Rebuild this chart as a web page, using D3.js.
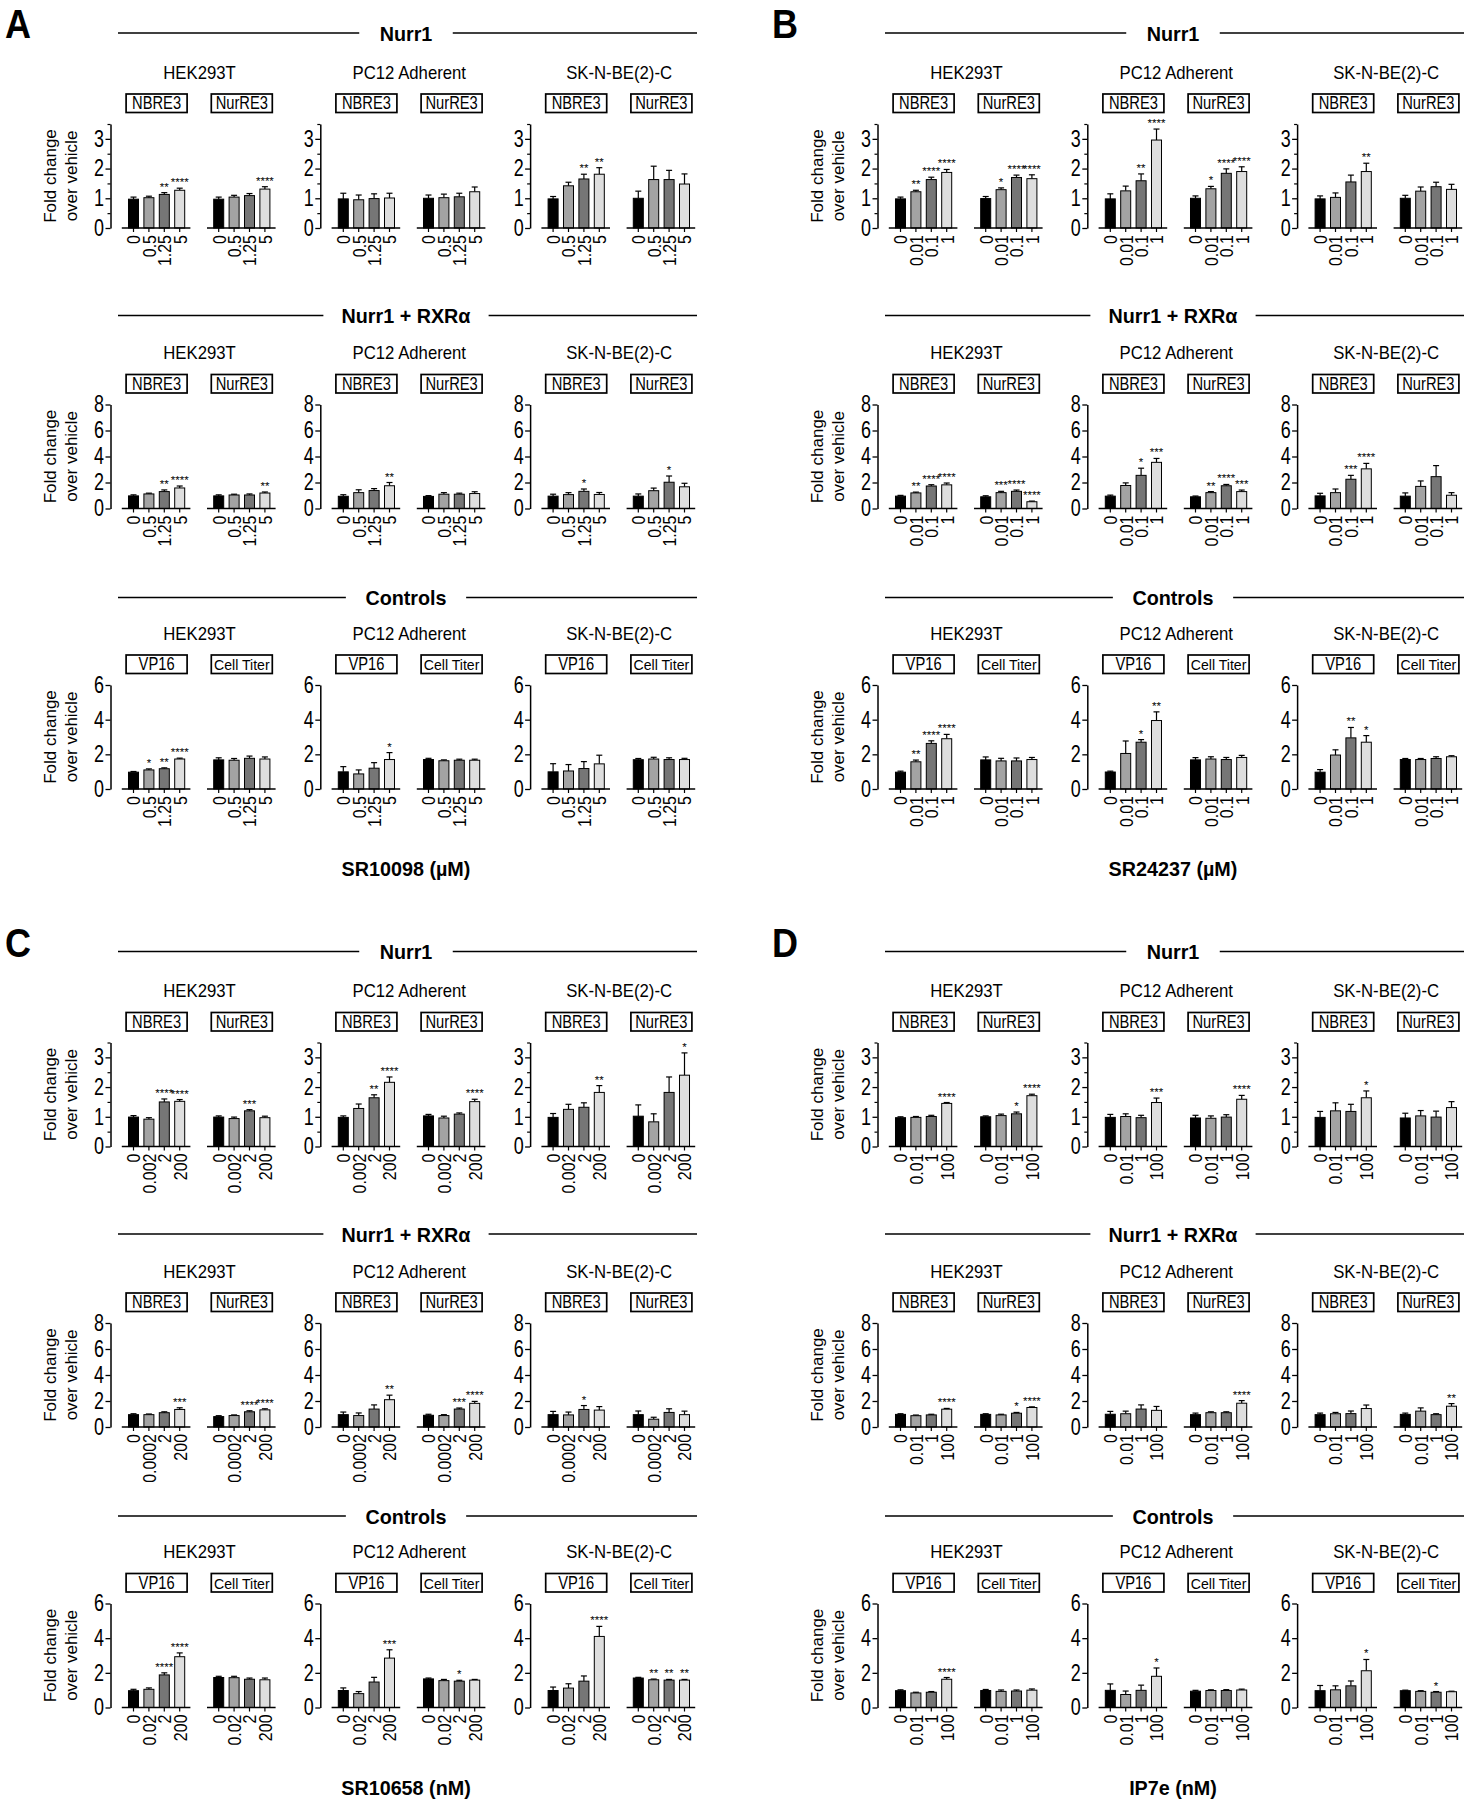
<!DOCTYPE html>
<html><head><meta charset="utf-8">
<script src="https://cdn.jsdelivr.net/npm/d3@7"></script>
<style>body{margin:0;background:#fff}</style>
</head><body>
<svg id="c" width="1464" height="1800"></svg>
<script>
// ---------------- DATA ----------------
const panelLetters = ["A","B","C","D"];
const xLabels = ["SR10098 (\u00b5M)","SR24237 (\u00b5M)","SR10658 (nM)","IP7e (nM)"];
const rowTitles = ["Nurr1","Nurr1 + RXR\u03b1","Controls"];
const cellLines = ["HEK293T","PC12 Adherent","SK-N-BE(2)-C"];
const reporters = [["NBRE3","NurRE3"],["NBRE3","NurRE3"],["VP16","Cell Titer"]];
const yMax = [3.5, 8, 6];
const yTicks = [[0,1,2,3],[0,2,4,6,8],[0,2,4,6]];
const yMinorTicks = [[0.5,1.5,2.5,3.5],[],[]];
const dosesA = ["0","0.5","1.25","5"];
const dosesB = ["0","0.01","0.1","1"];
const dosesC = [["0","0.002","2","200"],["0","0.0002","2","200"],["0","0.02","2","200"]];
const dosesD = ["0","0.01","1","100"];

// order per row: HEK rep1, HEK rep2, PC12 rep1, PC12 rep2, SK rep1, SK rep2
const meansA = [
 [0.97,1.02,1.13,1.27],[0.97,1.04,1.09,1.31],[0.98,0.95,0.99,1.01],[1.00,1.02,1.05,1.22],[0.98,1.42,1.65,1.81],[1.00,1.63,1.63,1.48],
 [0.97,1.12,1.30,1.58],[0.97,1.04,1.04,1.19],[0.94,1.22,1.38,1.75],[0.93,1.10,1.10,1.15],[0.95,1.07,1.32,1.08],[0.95,1.37,2.02,1.67],
 [0.97,1.10,1.17,1.73],[1.68,1.66,1.77,1.73],[0.99,0.87,1.20,1.70],[1.70,1.63,1.66,1.66],[0.99,1.04,1.18,1.45],[1.69,1.73,1.70,1.70]];
const errsA = [
 [0.07,0.05,0.06,0.07],[0.07,0.06,0.07,0.08],[0.19,0.16,0.16,0.16],[0.11,0.12,0.12,0.16],[0.08,0.12,0.16,0.22],[0.24,0.45,0.31,0.34],
 [0.08,0.06,0.13,0.15],[0.08,0.06,0.08,0.08],[0.12,0.22,0.15,0.25],[0.06,0.12,0.08,0.14],[0.15,0.15,0.18,0.15],[0.17,0.20,0.48,0.27],
 [0.04,0.06,0.05,0.05],[0.12,0.10,0.13,0.12],[0.30,0.23,0.32,0.40],[0.07,0.05,0.06,0.06],[0.47,0.37,0.40,0.50],[0.07,0.10,0.10,0.07]];
const starsA = [
 [0,0,2,4],[0,0,0,4],[0,0,0,0],[0,0,0,0],[0,0,2,2],[0,0,0,0],
 [0,0,2,4],[0,0,0,2],[0,0,0,2],[0,0,0,0],[0,0,1,0],[0,0,1,0],
 [0,1,2,4],[0,0,0,0],[0,0,0,1],[0,0,0,0],[0,0,0,0],[0,0,0,0]];

const meansB = [
 [0.98,1.22,1.63,1.87],[0.99,1.29,1.70,1.66],[0.98,1.25,1.59,2.96],[1.00,1.32,1.84,1.90],[0.98,1.03,1.55,1.90],[1.00,1.24,1.39,1.30],
 [0.95,1.20,1.73,1.82],[0.90,1.22,1.32,0.52],[0.95,1.77,2.55,3.55],[0.90,1.22,1.75,1.30],[0.97,1.22,2.25,3.05],[0.95,1.70,2.45,1.02],
 [0.97,1.57,2.63,2.90],[1.68,1.62,1.62,1.70],[0.98,2.05,2.70,3.95],[1.68,1.73,1.70,1.82],[0.97,1.96,2.95,2.70],[1.70,1.70,1.76,1.86]];
const errsB = [
 [0.06,0.05,0.08,0.10],[0.07,0.06,0.08,0.13],[0.17,0.16,0.23,0.37],[0.08,0.08,0.15,0.16],[0.10,0.15,0.23,0.28],[0.10,0.14,0.15,0.17],
 [0.06,0.06,0.10,0.14],[0.08,0.10,0.10,0.05],[0.08,0.20,0.55,0.30],[0.06,0.08,0.10,0.12],[0.20,0.28,0.30,0.42],[0.25,0.42,0.85,0.20],
 [0.06,0.10,0.15,0.25],[0.17,0.15,0.17,0.12],[0.05,0.72,0.15,0.50],[0.13,0.13,0.12,0.12],[0.15,0.30,0.60,0.38],[0.06,0.06,0.10,0.06]];
const starsB = [
 [0,2,4,4],[0,1,4,4],[0,0,2,4],[0,1,4,4],[0,0,0,2],[0,0,0,0],
 [0,2,4,4],[0,3,4,4],[0,0,1,3],[0,2,4,3],[0,0,3,4],[0,0,0,0],
 [0,2,4,4],[0,0,0,0],[0,0,1,2],[0,0,0,0],[0,0,2,1],[0,0,0,0]];

const meansC = [
 [0.99,0.92,1.50,1.52],[0.99,0.94,1.20,0.97],[0.98,1.28,1.64,2.16],[1.03,0.96,1.09,1.51],[0.98,1.25,1.32,1.82],[1.02,0.83,1.82,2.40],
 [0.95,0.95,1.10,1.35],[0.80,0.88,1.17,1.32],[0.95,0.88,1.38,2.10],[0.90,0.88,1.38,1.82],[0.95,0.93,1.35,1.30],[0.95,0.60,1.12,0.95],
 [0.97,1.05,1.88,2.93],[1.73,1.72,1.63,1.60],[0.98,0.80,1.47,2.85],[1.65,1.55,1.52,1.58],[0.98,1.12,1.52,4.10],[1.70,1.60,1.58,1.58]];
const errsC = [
 [0.05,0.05,0.10,0.06],[0.04,0.05,0.04,0.05],[0.05,0.15,0.10,0.18],[0.05,0.06,0.04,0.08],[0.13,0.17,0.15,0.23],[0.38,0.27,0.52,0.75],
 [0.07,0.05,0.07,0.13],[0.07,0.05,0.08,0.08],[0.20,0.20,0.32,0.35],[0.08,0.07,0.08,0.15],[0.25,0.22,0.30,0.27],[0.28,0.15,0.28,0.27],
 [0.08,0.08,0.12,0.22],[0.07,0.08,0.07,0.10],[0.15,0.12,0.27,0.48],[0.05,0.07,0.05,0.04],[0.20,0.25,0.30,0.58],[0.04,0.04,0.04,0.04]];
const starsC = [
 [0,0,4,4],[0,0,3,0],[0,0,2,4],[0,0,0,4],[0,0,0,2],[0,0,0,1],
 [0,0,0,3],[0,0,4,4],[0,0,0,2],[0,0,3,4],[0,0,1,0],[0,0,0,0],
 [0,0,4,4],[0,0,0,0],[0,0,0,3],[0,0,1,0],[0,0,0,4],[0,2,2,2]];

const meansD = [
 [0.97,0.98,1.01,1.45],[1.00,1.04,1.10,1.71],[0.98,1.01,0.97,1.48],[0.96,0.95,0.99,1.59],[0.98,1.20,1.18,1.64],[0.96,1.03,0.99,1.31],
 [0.97,0.87,0.93,1.37],[0.97,0.93,1.06,1.50],[0.98,1.02,1.38,1.28],[0.95,1.10,1.10,1.83],[0.95,1.02,1.03,1.42],[0.97,1.22,0.95,1.60],
 [0.97,0.84,0.88,1.63],[0.98,0.93,0.95,1.00],[0.99,0.75,0.99,1.80],[0.94,0.98,0.98,1.01],[0.97,1.02,1.25,2.12],[0.97,0.93,0.88,0.91]];
const errsD = [
 [0.03,0.03,0.04,0.03],[0.03,0.05,0.06,0.05],[0.10,0.09,0.08,0.15],[0.09,0.08,0.08,0.13],[0.20,0.27,0.24,0.23],[0.16,0.18,0.20,0.20],
 [0.05,0.05,0.05,0.06],[0.05,0.05,0.06,0.05],[0.22,0.20,0.32,0.30],[0.12,0.07,0.07,0.20],[0.12,0.10,0.20,0.27],[0.10,0.25,0.07,0.20],
 [0.05,0.04,0.04,0.10],[0.06,0.08,0.06,0.07],[0.37,0.20,0.30,0.48],[0.05,0.04,0.05,0.05],[0.30,0.23,0.28,0.65],[0.03,0.04,0.04,0.03]];
const starsD = [
 [0,0,0,4],[0,0,1,4],[0,0,0,3],[0,0,0,4],[0,0,0,1],[0,0,0,0],
 [0,0,0,4],[0,0,1,4],[0,0,0,0],[0,0,0,4],[0,0,0,0],[0,0,0,2],
 [0,0,0,4],[0,0,0,0],[0,0,0,1],[0,0,0,0],[0,0,0,1],[0,0,1,0]];

const barFills = ["#000000","#a3a3a3","#767676","#dedede"];

// ---------------- DRAW ----------------
const FF = "'Liberation Sans', Arial, Helvetica, sans-serif";
const svg = d3.select("#c").attr("font-family", FF);
svg.append("rect").attr("width",1464).attr("height",1800).attr("fill","#fff");

// horizontally condense text (Helvetica-Condensed look); optional max width
function condense(sel, f, maxW) {
  sel.each(function () {
    const L = this.getComputedTextLength();
    let T = L * f;
    if (maxW && T > maxW) T = maxW;
    if (L > 0) d3.select(this).attr("textLength", T).attr("lengthAdjust", "spacingAndGlyphs");
  });
  return sel;
}

const panels = [
  {means:meansA, errs:errsA, stars:starsA, doses:[dosesA,dosesA,dosesA]},
  {means:meansB, errs:errsB, stars:starsB, doses:[dosesB,dosesB,dosesB]},
  {means:meansC, errs:errsC, stars:starsC, doses:dosesC},
  {means:meansD, errs:errsD, stars:starsD, doses:[dosesD,dosesD,dosesD]}
];
const panelOffsets = [[0,0],[767,0],[0,918.5],[767,918.5]];
const headerShift = [0, 2, 3.5];
const fmt = d3.format("~g");

panels.forEach((P, p) => {
  const [ox, oy] = panelOffsets[p];
  const g = svg.append("g").attr("transform", `translate(${ox},${oy})`);
  condense(g.append("text").attr("x",5).attr("y",38).attr("font-size",40).attr("font-weight","bold").text(panelLetters[p]), 0.9);

  for (let r = 0; r < 3; r++) {
    const hy = 33 + r * 280.5;
    const hly = hy + headerShift[r];
    const cx = 406;
    const ht = g.append("text").attr("x",cx).attr("y",hly+7.5).attr("text-anchor","middle")
      .attr("font-size",21).attr("font-weight","bold").text(rowTitles[r]);
    condense(ht, 0.94);
    const tw = ht.node().getComputedTextLength() * 0.94;
    g.append("line").attr("x1",118).attr("x2",cx - tw/2 - 22).attr("y1",hly).attr("y2",hly).attr("stroke","#000").attr("stroke-width",1.5);
    g.append("line").attr("x1",cx + tw/2 + 22).attr("x2",697).attr("y1",hly).attr("y2",hly).attr("stroke","#000").attr("stroke-width",1.5);

    const y = d3.scaleLinear().domain([0, yMax[r]]).range([hy + 195, hy + 91]);

    // y label
    g.append("text").attr("transform",`translate(56,${hy+143}) rotate(-90)`).attr("text-anchor","middle").attr("font-size",17).text("Fold change");
    g.append("text").attr("transform",`translate(77,${hy+143}) rotate(-90)`).attr("text-anchor","middle").attr("font-size",17).text("over vehicle");

    for (let c = 0; c < 3; c++) {
      const x0 = 110.5 + c * 209.8;
      condense(g.append("text").attr("x", x0 + 89).attr("y", hy + 45.5).attr("text-anchor","middle").attr("font-size",19).text(cellLines[c]), 0.88);

      // y axis
      const ya = g.append("g").attr("transform",`translate(${x0},0)`)
        .call(d3.axisLeft(y).tickValues(yTicks[r]).tickFormat(fmt).tickSize(5).tickSizeOuter(0).tickPadding(1.5))
        .attr("font-family",FF).attr("font-size",23);
      ya.select(".domain").attr("stroke-width",1.5);
      ya.selectAll(".tick line").attr("stroke-width",1.3);
      condense(ya.selectAll(".tick text"), 0.78);
      if (yMinorTicks[r].length) {
        const ym = g.append("g").attr("transform",`translate(${x0},0)`)
          .call(d3.axisLeft(y).tickValues(yMinorTicks[r]).tickSize(3).tickFormat(""));
        ym.select(".domain").remove();
        ym.selectAll(".tick line").attr("stroke-width",1.2);
      }

      for (let k = 0; k < 2; k++) {
        const idx = r * 6 + c * 2 + k;
        const xs = x0 + 15.3 + k * 85.2;
        const doses = P.doses[r];
        const xb = d3.scaleBand().domain(doses).range([xs, xs + 61.6]).paddingInner(0.35).paddingOuter(0.175);
        const vals = P.means[idx], errs = P.errs[idx], st = P.stars[idx];

        // box label (fixed-width box, text fitted inside)
        const bcx = xs + 30.8;
        const bw = 61;
        g.append("rect").attr("x", bcx - bw/2).attr("y", hy + 61).attr("width", bw).attr("height", 18.5)
          .attr("fill","#fff").attr("stroke","#000").attr("stroke-width",1.7);
        const bt = g.append("text").attr("x",bcx).attr("y",hy+76).attr("text-anchor","middle").attr("font-size",17.5).text(reporters[r][k]);
        const natural = bt.node().getComputedTextLength();
        if (natural * 0.84 > bw - 5) {
          // long label: smaller font so it fits the box
          const fs = 17.5 * (bw - 3) / natural;
          bt.attr("font-size", fs);
          condense(bt, 0.96);
        } else {
          condense(bt, 0.84);
        }

        // bars
        const bg = g.append("g");
        doses.forEach((d, i) => {
          const bx = xb(d), bwid = xb.bandwidth(), cxm = bx + bwid/2;
          const top = y(vals[i] + errs[i]);
          bg.append("line").attr("x1",cxm).attr("x2",cxm).attr("y1",y(vals[i])).attr("y2",top).attr("stroke","#000").attr("stroke-width",1.2);
          bg.append("line").attr("x1",cxm-3).attr("x2",cxm+3).attr("y1",top).attr("y2",top).attr("stroke","#000").attr("stroke-width",1.2);
          bg.append("rect").attr("x",bx).attr("y",y(vals[i])).attr("width",bwid).attr("height",y(0)-y(vals[i]))
            .attr("fill",barFills[i]).attr("stroke","#000").attr("stroke-width",1);
          if (st[i] > 0) {
            bg.append("text").attr("x",cxm).attr("y",top - 2).attr("text-anchor","middle").attr("font-size",11.5).text("*".repeat(st[i]));
          }
        });

        // x axis
        const xa = g.append("g").attr("transform",`translate(0,${y(0)})`)
          .call(d3.axisBottom(xb).tickSize(4).tickSizeOuter(0))
          .attr("font-family",FF).attr("font-size",19);
        xa.select(".domain").attr("d",`M${xs-4},0H${xs+64.6}`).attr("stroke-width",1.5);
        xa.selectAll(".tick line").attr("stroke-width",1.2);
        xa.selectAll(".tick text").attr("transform","rotate(-90)").attr("text-anchor","end")
          .attr("x",-7).attr("y",0).attr("dy","0.36em");
        condense(xa.selectAll(".tick text"), 0.84);
      }
    }
    if (r === 2) {
      condense(g.append("text").attr("x",cx).attr("y",hy+282).attr("text-anchor","middle").attr("font-size",21).attr("font-weight","bold").text(xLabels[p]), 0.94);
    }
  }
});
</script>
</body></html>
